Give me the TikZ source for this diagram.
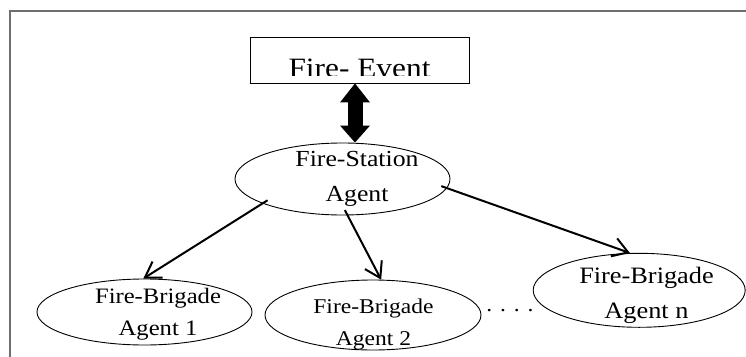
\documentclass[tikz,border=0pt]{standalone}
\usepackage{fontspec}
\setmainfont{Liberation Serif}[FakeStretch=1.12]
\usetikzlibrary{shapes.geometric,arrows.meta}
\definecolor{framegray}{RGB}{110,110,110}
\tikzset{
  agent/.style={ellipse, draw=black, line width=0.9pt, inner sep=0pt},
  lbl/.style={inner sep=0pt, align=center, anchor=base},
  link/.style={line width=2pt, -{Straight Barb[length=15pt,width=19pt]}, shorten <=-6pt},
  bigarrow/.style={line width=15pt, {Triangle[length=19pt,width=30pt,line width=0pt]}-{Triangle[length=17pt,width=30pt,line width=0pt]}}
}
\begin{document}
\begin{tikzpicture}[x=1pt,y=-1pt]
\useasboundingbox (0,0) rectangle (746,356);
\fill[white] (0,0) rectangle (746,356);
% frame
\draw[framegray, line width=1.5pt] (10,360) -- (10,11) -- (750,11);
% Fire-Event box
\node[draw=black, line width=0.9pt, minimum width=219pt, minimum height=46pt, inner sep=0pt] (fe) at (359.5,60) {};
\begin{scope}
\clip (250,37) rectangle (469,75.5);
\node[lbl, font=\fontsize{28}{30}\selectfont] (fet) at (359.5,77) {Fire- Event};
\end{scope}
% ellipses
\node[agent, minimum width=215pt, minimum height=72pt] (fs) at (342.5,179) {};
\node[agent, minimum width=215pt, minimum height=66pt] (b1) at (144.5,312) {};
\node[agent, minimum width=216pt, minimum height=70pt] (b2) at (373,315) {};
\node[agent, minimum width=212pt, minimum height=74pt] (bn) at (639.2,290.3) {};
% texts (anchor base = baseline of the last line)
\node[lbl, font=\fontsize{23}{35}\selectfont] (fst) at (357,201.7) {Fire-Station\\Agent};
\node[lbl, font=\fontsize{22}{32}\selectfont] (b1t) at (158,335) {Fire-Brigade\\Agent 1};
\node[lbl, font=\fontsize{21}{32}\selectfont] (b2t) at (373.5,345) {Fire-Brigade\\Agent 2};
\node[lbl, font=\fontsize{23.5}{35}\selectfont] (bnt) at (646.5,318) {Fire-Brigade\\Agent n};
\node[lbl, font=\fontsize{21}{25}\selectfont] (dots) at (510,311) {. . . .};
% double arrow
\draw[bigarrow] ([xshift=-4.5pt]fe.south) -- ([xshift=12.5pt]fs.north);
% links
\draw[link] (fs.197) -- (b1.92);
\draw[link] (fs.278) -- (b2.77);
\draw[link] (fs.355) -- (bn.104);
\end{tikzpicture}
\end{document}
